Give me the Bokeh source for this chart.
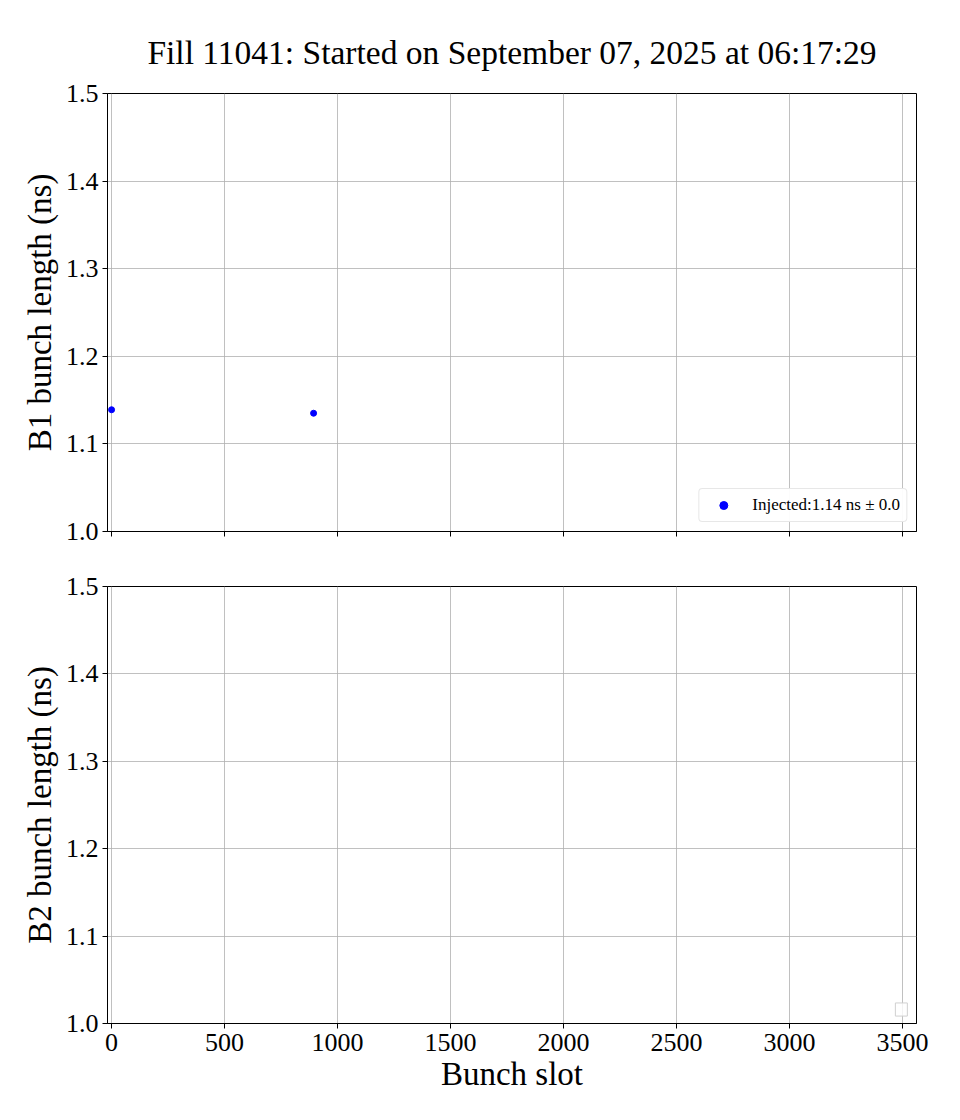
from bokeh.plotting import figure
from bokeh.layouts import column
from bokeh.models import Range1d, FixedTicker, Legend, LegendItem
from bokeh.embed import file_html
from bokeh.resources import INLINE

title_text = "Fill 11041: Started on September 07, 2025 at 06:17:29"
b1_slots = [0, 894]
b1_length = [1.139, 1.135]
b2_slots = []
b2_length = []
legend_label = "Injected:1.14 ns \u00b1 0.0"
x_ticks = [0, 500, 1000, 1500, 2000, 2500, 3000, 3500]
y_ticks = [1.0, 1.1, 1.2, 1.3, 1.4, 1.5]

FONT = "Liberation Serif"

def style(p, show_xlabels):
    p.outline_line_color = "black"
    p.outline_line_width = 1
    p.xgrid.grid_line_color = "#b0b0b0"
    p.ygrid.grid_line_color = "#b0b0b0"
    p.xgrid.grid_line_width = 0.8
    p.ygrid.grid_line_width = 0.8
    for ax in (p.xaxis[0], p.yaxis[0]):
        ax.axis_line_color = "black"
        ax.major_tick_line_color = "black"
        ax.major_tick_out = 5
        ax.major_tick_in = 0
        ax.minor_tick_line_color = None
        ax.major_label_text_font = FONT
        ax.major_label_text_font_size = "26px"
        ax.major_label_text_color = "black"
        ax.axis_label_text_font = FONT
        ax.axis_label_text_font_size = "33px"
        ax.axis_label_text_font_style = "normal"
        ax.axis_label_text_color = "black"
    p.xaxis.ticker = FixedTicker(ticks=x_ticks)
    p.yaxis.ticker = FixedTicker(ticks=y_ticks)
    p.yaxis.major_label_overrides = {t: f"{t:.1f}" for t in y_ticks}
    p.yaxis.major_label_standoff = 4
    p.xaxis.major_label_standoff = 5
    p.xaxis.axis_label_standoff = 2
    if not show_xlabels:
        p.xaxis.major_label_overrides = {t: "" for t in x_ticks}

p1 = figure(width=952, height=558, output_backend="svg", toolbar_location=None,
            x_range=Range1d(-18, 3562), y_range=Range1d(1.0, 1.5),
            min_border_left=107, min_border_right=36, min_border_top=93, min_border_bottom=27)
p1.title.text = title_text
p1.title.align = "center"
p1.title.text_font = FONT
p1.title.text_font_size = "33.5px"
p1.title.text_font_style = "normal"
p1.title.text_color = "black"
p1.title.standoff = 46
style(p1, False)
p1.yaxis.axis_label = "B1 bunch length (ns)"
r1 = p1.scatter(b1_slots, b1_length, size=6, color="blue")
leg1 = Legend(items=[LegendItem(label=legend_label, renderers=[r1])], location="bottom_right")
leg1.label_text_font = FONT
leg1.label_text_font_size = "17px"
leg1.label_text_color = "black"
leg1.border_line_color = "#d0d0d0"
leg1.border_radius = 4
leg1.margin = 9
leg1.padding = 6
leg1.glyph_width = 36
leg1.label_standoff = 11
p1.add_layout(leg1, "center")

p2 = figure(width=952, height=545, output_backend="svg", toolbar_location=None,
            x_range=p1.x_range, y_range=Range1d(1.0, 1.5),
            min_border_left=107, min_border_right=36, min_border_top=28, min_border_bottom=80)
style(p2, True)
p2.yaxis.axis_label = "B2 bunch length (ns)"
p2.xaxis.axis_label = "Bunch slot"
r2 = p2.scatter(b2_slots, b2_length, size=6, color="red")
p2.rect(x=[3495], y=[1.016], width=[53], height=[0.015], fill_color="white", fill_alpha=0.8,
        line_color="#d0d0d0", line_width=1)

layout = column(p1, p2, spacing=0)
open("out.html", "w").write(file_html(layout, INLINE))
